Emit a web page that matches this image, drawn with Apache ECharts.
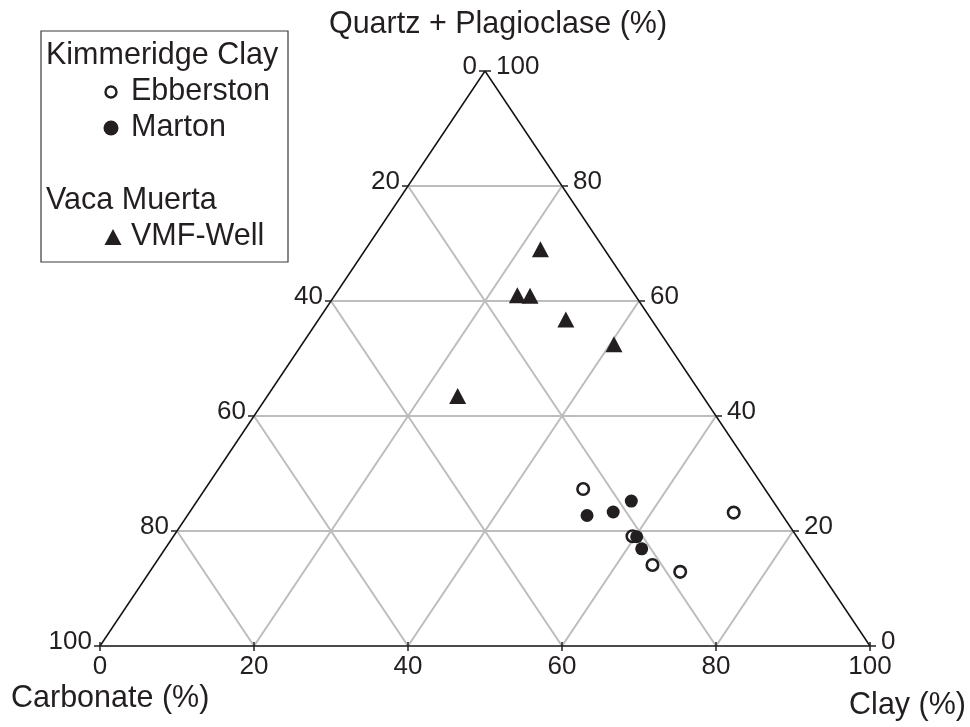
<!DOCTYPE html>
<html>
<head>
<meta charset="utf-8">
<title>Ternary diagram</title>
<script src="https://cdn.jsdelivr.net/npm/echarts@6/dist/echarts.min.js"></script>
<style>
  html, body { margin: 0; padding: 0; background: #ffffff; }
  #chart { width: 970px; height: 727px; }
</style>
</head>
<body>
<div id="chart"></div>
<script>
// Composition (%) of each sample: quartz + plagioclase, clay, carbonate
const ebberstonQuartz    = [27.3, 23.2, 19.1, 14.1, 12.9];
const ebberstonClay      = [49.1, 70.7, 59.6, 64.7, 68.9];
const ebberstonCarbonate = [23.6,  6.1, 21.3, 21.2, 18.2];

const martonQuartz    = [25.2, 22.7, 23.3, 19.0, 16.9];
const martonClay      = [56.4, 51.9, 55.0, 60.2, 61.9];
const martonCarbonate = [18.4, 25.4, 21.7, 20.8, 21.2];

const vmfQuartz    = [69.0, 61.0, 60.9, 56.8, 52.5, 43.5];
const vmfClay      = [22.7, 23.7, 25.4, 32.1, 40.5, 24.7];
const vmfCarbonate = [ 8.3, 15.3, 13.7, 11.1,  7.0, 31.8];

// Tick labels shared by the three ternary axes
const tickValues = [0, 20, 40, 60, 80, 100];
const gridValues = [20, 40, 60, 80];

const axisTitles = {
  top: 'Quartz + Plagioclase (%)',
  left: 'Carbonate (%)',
  right: 'Clay (%)'
};

// Ternary (quartz, clay) -> cartesian position inside the triangle.
// Left vertex = 100 % carbonate, right vertex = 100 % clay, apex = 100 % quartz.
function tern(q, c) {
  return [c + q / 2, q];
}

function samples(qs, cs) {
  return qs.map((q, i) => tern(q, cs[i]));
}

// Segments: triangle edges and the 20 % grid in all three directions
const outline = [
  tern(0, 0).concat(tern(0, 100)),
  tern(0, 100).concat(tern(100, 0)),
  tern(100, 0).concat(tern(0, 0))
];
const gridSegments = [];
gridValues.forEach(v => {
  // constant quartz
  gridSegments.push(tern(v, 0).concat(tern(v, 100 - v)));
  // constant clay
  gridSegments.push(tern(0, v).concat(tern(100 - v, v)));
  // constant carbonate
  gridSegments.push(tern(0, 100 - v).concat(tern(100 - v, 0)));
});

// Tick anchor points along each edge
const clayTicks = tickValues.map(v => tern(0, v));            // bottom edge
const carbonateTicks = tickValues.map(v => tern(100 - v, 0)); // left edge
const quartzTicks = tickValues.map(v => tern(v, 100 - v));    // right edge

const INK = '#231f20';
const TICK_FONT = '26px "Liberation Sans", Arial, sans-serif';
const TITLE_FONT = '30.5px "Liberation Sans", Arial, sans-serif';

function segmentSeries(data, color, width, z) {
  return {
    type: 'custom',
    coordinateSystem: 'cartesian2d',
    silent: true,
    z: z,
    data: data,
    encode: { x: [0, 2], y: [1, 3] },
    renderItem: function (params, api) {
      const p1 = api.coord([api.value(0), api.value(1)]);
      const p2 = api.coord([api.value(2), api.value(3)]);
      return {
        type: 'line',
        shape: { x1: p1[0], y1: p1[1], x2: p2[0], y2: p2[1] },
        style: { stroke: color, lineWidth: width, lineCap: 'butt' }
      };
    }
  };
}

function textEl(text, x, y, align, vAlign, font) {
  return {
    type: 'text',
    style: {
      text: text, x: x, y: y,
      align: align, textAlign: align,
      verticalAlign: vAlign, textVerticalAlign: vAlign,
      font: font, fill: INK
    }
  };
}

function tickSeries(data, side) {
  return {
    type: 'custom',
    coordinateSystem: 'cartesian2d',
    silent: true,
    z: 4,
    data: data,
    renderItem: function (params, api) {
      const p = api.coord([api.value(0), api.value(1)]);
      const label = String(tickValues[params.dataIndex]);
      let tick, text;
      if (side === 'bottom') {
        tick = { x1: p[0], y1: p[1] - 4, x2: p[0], y2: p[1] + 5 };
        text = textEl(label, p[0], p[1] + 8, 'center', 'top', TICK_FONT);
      } else if (side === 'left') {
        tick = { x1: p[0] - 6, y1: p[1], x2: p[0], y2: p[1] };
        text = textEl(label, p[0] - 8, p[1] - 4, 'right', 'middle', TICK_FONT);
      } else {
        tick = { x1: p[0], y1: p[1], x2: p[0] + 6, y2: p[1] };
        text = textEl(label, p[0] + 11, p[1] - 4, 'left', 'middle', TICK_FONT);
      }
      return {
        type: 'group',
        children: [
          { type: 'line', shape: tick, style: { stroke: INK, lineWidth: 1.5 } },
          text
        ]
      };
    }
  };
}

const chart = echarts.init(document.getElementById('chart'), null, { renderer: 'canvas' });

chart.setOption({
  animation: false,
  backgroundColor: '#ffffff',
  grid: { left: 100, right: 100, top: 71, bottom: 81 },
  xAxis: { type: 'value', min: 0, max: 100, show: false },
  yAxis: { type: 'value', min: 0, max: 100, show: false },
  graphic: [
    // axis titles
    textEl(axisTitles.top, 498, 25, 'center', 'middle', TITLE_FONT),
    textEl(axisTitles.left, 11, 699, 'left', 'middle', TITLE_FONT),
    textEl(axisTitles.right, 966, 706, 'right', 'middle', TITLE_FONT),
    // legend box
    {
      type: 'rect',
      shape: { x: 41, y: 31, width: 247, height: 231 },
      style: { fill: '#ffffff', stroke: '#3a3a3a', lineWidth: 1.2 }
    },
    textEl('Kimmeridge Clay', 46, 56, 'left', 'middle', TITLE_FONT),
    {
      type: 'circle',
      shape: { cx: 111, cy: 92, r: 5.5 },
      style: { fill: '#ffffff', stroke: INK, lineWidth: 2.4 }
    },
    textEl('Ebberston', 131, 92, 'left', 'middle', TITLE_FONT),
    {
      type: 'circle',
      shape: { cx: 111, cy: 128, r: 7.5 },
      style: { fill: INK }
    },
    textEl('Marton', 131, 128, 'left', 'middle', TITLE_FONT),
    textEl('Vaca Muerta', 46, 201, 'left', 'middle', TITLE_FONT),
    {
      type: 'polygon',
      shape: { points: [[113, 229], [104.5, 245], [121.5, 245]] },
      style: { fill: INK }
    },
    textEl('VMF-Well', 131, 237, 'left', 'middle', TITLE_FONT)
  ],
  series: [
    segmentSeries(gridSegments, '#bdbdbd', 2, 1),
    segmentSeries(outline, '#111111', 1.5, 2),
    tickSeries(clayTicks, 'bottom'),
    tickSeries(carbonateTicks, 'left'),
    tickSeries(quartzTicks, 'right'),
    {
      name: 'Ebberston',
      type: 'scatter',
      z: 5,
      symbol: 'circle',
      symbolSize: 11.5,
      itemStyle: { color: '#ffffff', borderColor: INK, borderWidth: 2.6, opacity: 1 },
      data: samples(ebberstonQuartz, ebberstonClay)
    },
    {
      name: 'Marton',
      type: 'scatter',
      z: 6,
      symbol: 'circle',
      symbolSize: 13,
      itemStyle: { color: INK, opacity: 1 },
      data: samples(martonQuartz, martonClay)
    },
    {
      name: 'VMF-Well',
      type: 'scatter',
      z: 6,
      symbol: 'triangle',
      symbolSize: [17, 16],
      itemStyle: { color: INK, opacity: 1 },
      data: samples(vmfQuartz, vmfClay)
    }
  ]
});
</script>
</body>
</html>
